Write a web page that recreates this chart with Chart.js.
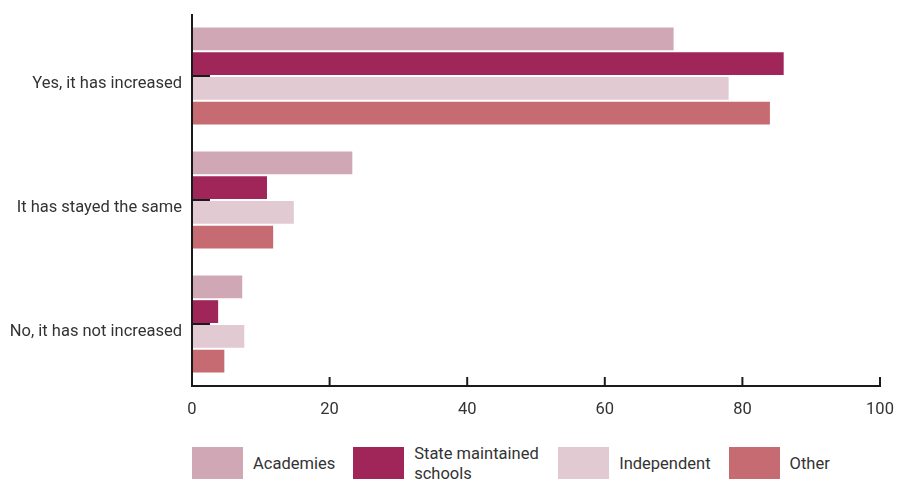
<!DOCTYPE html>
<html>
<head>
<meta charset="utf-8">
<script src="https://cdn.jsdelivr.net/npm/chart.js@4.4.1/dist/chart.umd.min.js"></script>
<style>
    html, body { margin: 0; padding: 0; background: #fff; }
    body { width: 897px; height: 479px; overflow: hidden; font-family: Roboto, "Liberation Sans", sans-serif; color: #333; }
    #wrap { width: 897px; height: 430px; position: relative; }
    #legend { display: flex; align-items: center; margin-top: 14px; padding-left: 192px; }
    .item { display: flex; align-items: center; margin-right: 18px; }
    .box { width: 51px; height: 35px; flex: none; }
    .label { margin-left: 10px; font-size: 16.5px; line-height: 20px; }
</style>
</head>
<body>
<div id="wrap"><canvas id="chart"></canvas></div>
<div id="legend"></div>

<script>
// ===============================
// DATA
// ===============================
const categories = ["Yes, it has increased", "It has stayed the same", "No, it has not increased"];
const seriesNames = ["Academies", "State maintained schools", "Independent", "Other"];
const academies = [70, 23.3, 7.3];
const stateSchools = [86, 10.9, 3.8];
const independent = [78, 14.8, 7.6];
const other = [84, 11.8, 4.7];
const xTicks = [0, 20, 40, 60, 80, 100];

const colors = ["#cfa7b5", "#a0265a", "#e2cad2", "#c76b72"];
const seriesValues = [academies, stateSchools, independent, other];

// ===============================
// AXIS LINES + INWARD TICKS
// ===============================
const axisPlugin = {
    id: "axisLines",
    afterDatasetsDraw(chart) {
        const { ctx, chartArea, scales } = chart;
        ctx.save();
        ctx.strokeStyle = "#1a1a1a";
        ctx.lineWidth = 2;

        // y axis line
        ctx.beginPath();
        ctx.moveTo(chartArea.left, chartArea.top);
        ctx.lineTo(chartArea.left, chartArea.bottom + 1);
        ctx.stroke();

        // x axis line
        ctx.beginPath();
        ctx.moveTo(chartArea.left - 1, chartArea.bottom);
        ctx.lineTo(chartArea.right + 1, chartArea.bottom);
        ctx.stroke();

        // short category ticks pointing into the plot
        categories.forEach((c, i) => {
            const y = scales.y.getPixelForValue(i);
            ctx.beginPath();
            ctx.moveTo(chartArea.left, y);
            ctx.lineTo(chartArea.left + 18, y);
            ctx.stroke();
        });

        // value ticks pointing up from the x axis
        xTicks.forEach(v => {
            const x = scales.x.getPixelForValue(v);
            ctx.beginPath();
            ctx.moveTo(x, chartArea.bottom);
            ctx.lineTo(x, chartArea.bottom - 9);
            ctx.stroke();
        });

        ctx.restore();
    }
};

// ===============================
// CHART
// ===============================
const ctx = document.getElementById("chart").getContext("2d");

new Chart(ctx, {
    type: "bar",
    data: {
        labels: categories,
        datasets: seriesNames.map((name, i) => ({
            label: name,
            data: seriesValues[i],
            backgroundColor: colors[i],
            borderWidth: 0
        }))
    },
    options: {
        indexAxis: "y",
        responsive: true,
        maintainAspectRatio: false,
        animation: false,
        categoryPercentage: 0.8,
        barPercentage: 0.92,
        layout: { padding: { top: 14, right: 17, left: 0, bottom: 0 } },
        plugins: {
            legend: { display: false },
            tooltip: { enabled: false }
        },
        scales: {
            x: {
                min: 0,
                max: 100,
                afterBuildTicks: scale => { scale.ticks = xTicks.map(v => ({ value: v })); },
                afterFit: scale => {
                    scale.height = 44;
                    scale.paddingLeft = 0;
                    scale.paddingRight = 0;
                },
                grid: { display: false, drawTicks: false },
                border: { display: false },
                ticks: {
                    padding: 14,
                    color: "#333",
                    font: { family: "Roboto", size: 16.5 }
                }
            },
            y: {
                afterFit: scale => {
                    scale.width = 192;
                    scale.paddingTop = 0;
                    scale.paddingBottom = 0;
                },
                grid: { display: false, drawTicks: false },
                border: { display: false },
                ticks: {
                    padding: 10,
                    labelOffset: 8,
                    color: "#333",
                    font: { family: "Roboto", size: 16.5 }
                }
            }
        }
    },
    plugins: [axisPlugin]
});

// ===============================
// HTML LEGEND
// ===============================
const legend = document.getElementById("legend");
seriesNames.forEach((name, i) => {
    const item = document.createElement("div");
    item.className = "item";
    const labelWidth = name.length > 15 ? "max-width: 126px;" : "";
    item.innerHTML = `
        <div class="box" style="background:${colors[i]}"></div>
        <div class="label" style="${labelWidth}">${name}</div>
    `;
    legend.appendChild(item);
});
</script>
</body>
</html>
